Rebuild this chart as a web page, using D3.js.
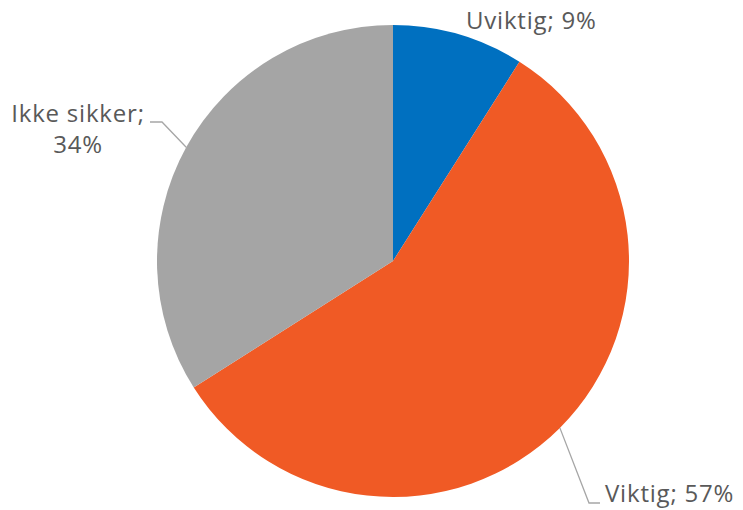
<!DOCTYPE html>
<html lang="no">
<head>
<meta charset="UTF-8">
<title>Pie</title>
<script src="https://d3js.org/d3.v7.min.js"></script>
<style>
html, body { margin: 0; padding: 0; background: #fff; }
svg { display: block; }
text { font-family: "Open Sans", "DejaVu Sans", sans-serif; fill: #595959; font-size: 24px; letter-spacing: 0.8px; }
</style>
</head>
<body>
<script>
const categories = ['Uviktig', 'Viktig', 'Ikke sikker'];
const values = [9, 57, 34];
const colors = ['#0070C0', '#F05A25', '#A5A5A5'];

const w = 743, h = 510;
const cx = 393, cy = 261, radius = 236;

const svg = d3.select('body').append('svg').attr('width', w).attr('height', h);
const g = svg.append('g').attr('transform', 'translate(' + cx + ',' + cy + ')');

const data = categories.map((c, i) => ({ name: c, value: values[i], color: colors[i] }));
const pie = d3.pie().value(d => d.value).sort(null);
const arc = d3.arc().innerRadius(0).outerRadius(radius);
const arcs = pie(data);

g.selectAll('path').data(arcs).enter().append('path')
    .attr('d', arc)
    .attr('fill', d => d.data.color);

// point on the rim at the middle of a slice
const rim = d => {
    const a = (d.startAngle + d.endAngle) / 2;
    return [radius * Math.sin(a), -radius * Math.cos(a)];
};

const lines = svg.append('g').attr('fill', 'none').attr('stroke', '#A6A6A6').attr('stroke-width', 1.3);

// Uviktig: no leader line
svg.append('text').attr('x', 466).attr('y', 29).text(categories[0] + '; ' + values[0] + '%');

// Viktig
const pV = rim(arcs[1]);
lines.append('polyline').attr('points', [
    [cx + pV[0], cy + pV[1]], [589, 503], [600, 503]
].map(p => p.join(',')).join(' '));
svg.append('text').attr('x', 605).attr('y', 502).text(categories[1] + '; ' + values[1] + '%');

// Ikke sikker
const pI = rim(arcs[2]);
lines.append('polyline').attr('points', [
    [cx + pI[0], cy + pI[1]], [162, 122], [150, 122]
].map(p => p.join(',')).join(' '));
const t = svg.append('text').attr('text-anchor', 'middle');
t.append('tspan').attr('x', 78).attr('y', 122).text(categories[2] + ';');
t.append('tspan').attr('x', 78).attr('y', 153).text(values[2] + '%');
</script>
</body>
</html>
